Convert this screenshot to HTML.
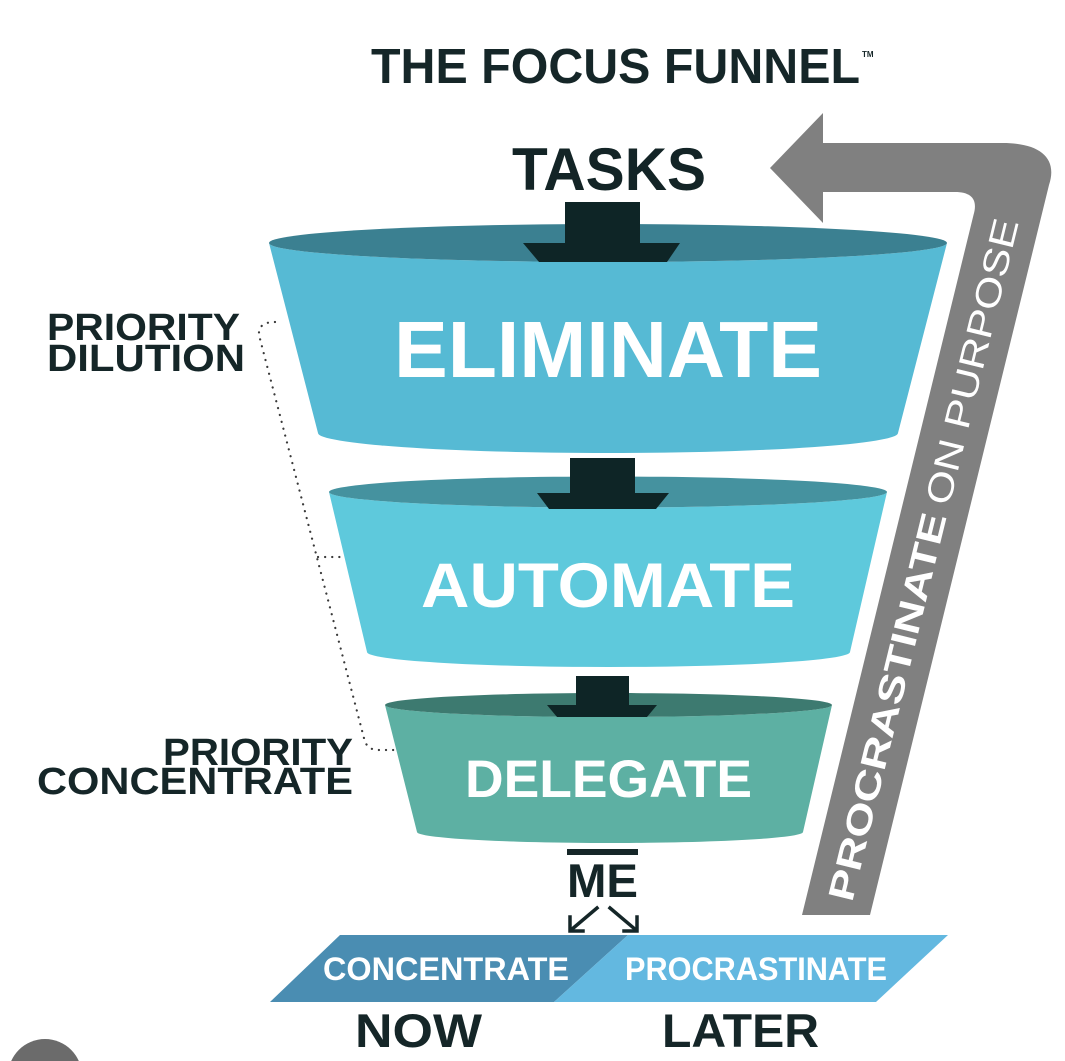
<!DOCTYPE html>
<html>
<head>
<meta charset="utf-8">
<style>
html,body{margin:0;padding:0;background:#fff;}
svg{display:block;}
text{font-family:"Liberation Sans",Arial,sans-serif;}
</style>
</head>
<body>
<svg width="1065" height="1061" viewBox="0 0 1065 1061" xmlns="http://www.w3.org/2000/svg">
<rect width="1065" height="1061" fill="#fff"/>

<!-- Title -->
<text x="371" y="83" font-size="49" font-weight="bold" fill="#152628" textLength="489" lengthAdjust="spacingAndGlyphs">THE FOCUS FUNNEL</text>
<text x="862" y="57" font-size="8" font-weight="bold" fill="#152628">TM</text>

<!-- TASKS -->
<text x="512" y="190" font-size="60" font-weight="bold" fill="#132426" textLength="194" lengthAdjust="spacingAndGlyphs">TASKS</text>

<!-- Gray procrastinate arrow -->
<path d="M770 168 L823 113 L823 143 L1003 143 C1040 143 1058 158 1049 185 L870 915 L802 915 L973.5 215 C978 200 972 192 955 192 L823 192 L823 223 Z" fill="#808080"/>
<text transform="translate(852,903) rotate(-76.23)" font-size="36" font-weight="bold" fill="#fff" textLength="398" lengthAdjust="spacingAndGlyphs">PROCRASTINATE</text>
<text transform="translate(852,903) rotate(-76.23) translate(408,0)" font-size="36" fill="#fff" textLength="293" lengthAdjust="spacingAndGlyphs">ON PURPOSE</text>

<!-- Dotted priority line -->
<path d="M275 322 Q258 322 259 335 L365 742 Q369 750 378 750 L402 750" fill="none" stroke="#3a3a3a" stroke-width="2.2" stroke-linecap="round" stroke-dasharray="0.1 7"/>
<path d="M318 557 L343 557" fill="none" stroke="#3a3a3a" stroke-width="2.2" stroke-linecap="round" stroke-dasharray="0.1 7"/>

<!-- Priority labels -->
<text x="47" y="340" font-size="38" font-weight="bold" fill="#152628" textLength="193" lengthAdjust="spacingAndGlyphs">PRIORITY</text>
<text x="47" y="371" font-size="38" font-weight="bold" fill="#152628" textLength="198" lengthAdjust="spacingAndGlyphs">DILUTION</text>
<text x="163" y="765" font-size="38" font-weight="bold" fill="#152628" textLength="190" lengthAdjust="spacingAndGlyphs">PRIORITY</text>
<text x="37" y="794" font-size="38" font-weight="bold" fill="#152628" textLength="316" lengthAdjust="spacingAndGlyphs">CONCENTRATE</text>

<!-- ELIMINATE funnel -->
<path d="M269 243 A339 19 0 0 0 947 243 L898 433 A290 20 0 0 1 318 433 Z" fill="#56bad4"/>
<ellipse cx="608" cy="243" rx="339" ry="19" fill="#3b8091"/>
<rect x="565" y="202" width="75" height="42" fill="#0e2526"/>
<polygon points="523,243 680,243 667,262 539,262" fill="#0e2526"/>
<text x="394" y="377" font-size="80" font-weight="bold" fill="#fff" textLength="428" lengthAdjust="spacingAndGlyphs">ELIMINATE</text>

<!-- AUTOMATE funnel -->
<path d="M329 492 A279 15.5 0 0 0 887 492 L850 652 A241.5 15 0 0 1 367 652 Z" fill="#5ec9dc"/>
<ellipse cx="608" cy="492" rx="279" ry="15.5" fill="#45929f"/>
<rect x="570" y="458" width="65" height="36" fill="#0e2526"/>
<polygon points="537,493 669,493 656,509 549,509" fill="#0e2526"/>
<text x="421" y="607" font-size="63" font-weight="bold" fill="#fff" textLength="374" lengthAdjust="spacingAndGlyphs">AUTOMATE</text>

<!-- DELEGATE funnel -->
<path d="M385 705 A223.5 12 0 0 0 832 705 L803 832 A193 11 0 0 1 417 832 Z" fill="#5db0a3"/>
<ellipse cx="608.5" cy="705" rx="223.5" ry="12" fill="#3d7a70"/>
<rect x="576" y="676" width="53" height="30" fill="#0e2526"/>
<polygon points="547,705 657,705 647,717 557,717" fill="#0e2526"/>
<text x="465" y="797" font-size="53" font-weight="bold" fill="#fff" textLength="287" lengthAdjust="spacingAndGlyphs">DELEGATE</text>

<!-- ME -->
<rect x="567" y="849" width="71" height="6" fill="#152628"/>
<text x="567" y="897" font-size="47" font-weight="bold" fill="#152628" textLength="71" lengthAdjust="spacingAndGlyphs">ME</text>
<g stroke="#152628" stroke-width="3.5" fill="none" stroke-linecap="square">
  <path d="M597 908 L571 930"/>
  <path d="M570 917 L570 931 L583 931"/>
  <path d="M610 908 L636 930"/>
  <path d="M637 917 L637 931 L624 931"/>
</g>

<!-- Bottom bar -->
<polygon points="340,935 628,935 554,1002 270,1002" fill="#4a8db2"/>
<polygon points="628,935 948,935 876,1002 554,1002" fill="#63b8e0"/>
<text x="323" y="980" font-size="32" font-weight="bold" fill="#fff" textLength="246" lengthAdjust="spacingAndGlyphs">CONCENTRATE</text>
<text x="625" y="980" font-size="32" font-weight="bold" fill="#fff" textLength="262" lengthAdjust="spacingAndGlyphs">PROCRASTINATE</text>

<text x="355" y="1047" font-size="47" font-weight="bold" fill="#152628" textLength="127" lengthAdjust="spacingAndGlyphs">NOW</text>
<text x="662" y="1047" font-size="47" font-weight="bold" fill="#152628" textLength="157" lengthAdjust="spacingAndGlyphs">LATER</text>

<!-- bottom-left circle -->
<circle cx="45" cy="1076" r="37" fill="#6b6b6b"/>
<text x="45" y="1092" font-size="40" font-weight="bold" fill="#fff" text-anchor="middle">A</text>
</svg>
</body>
</html>
